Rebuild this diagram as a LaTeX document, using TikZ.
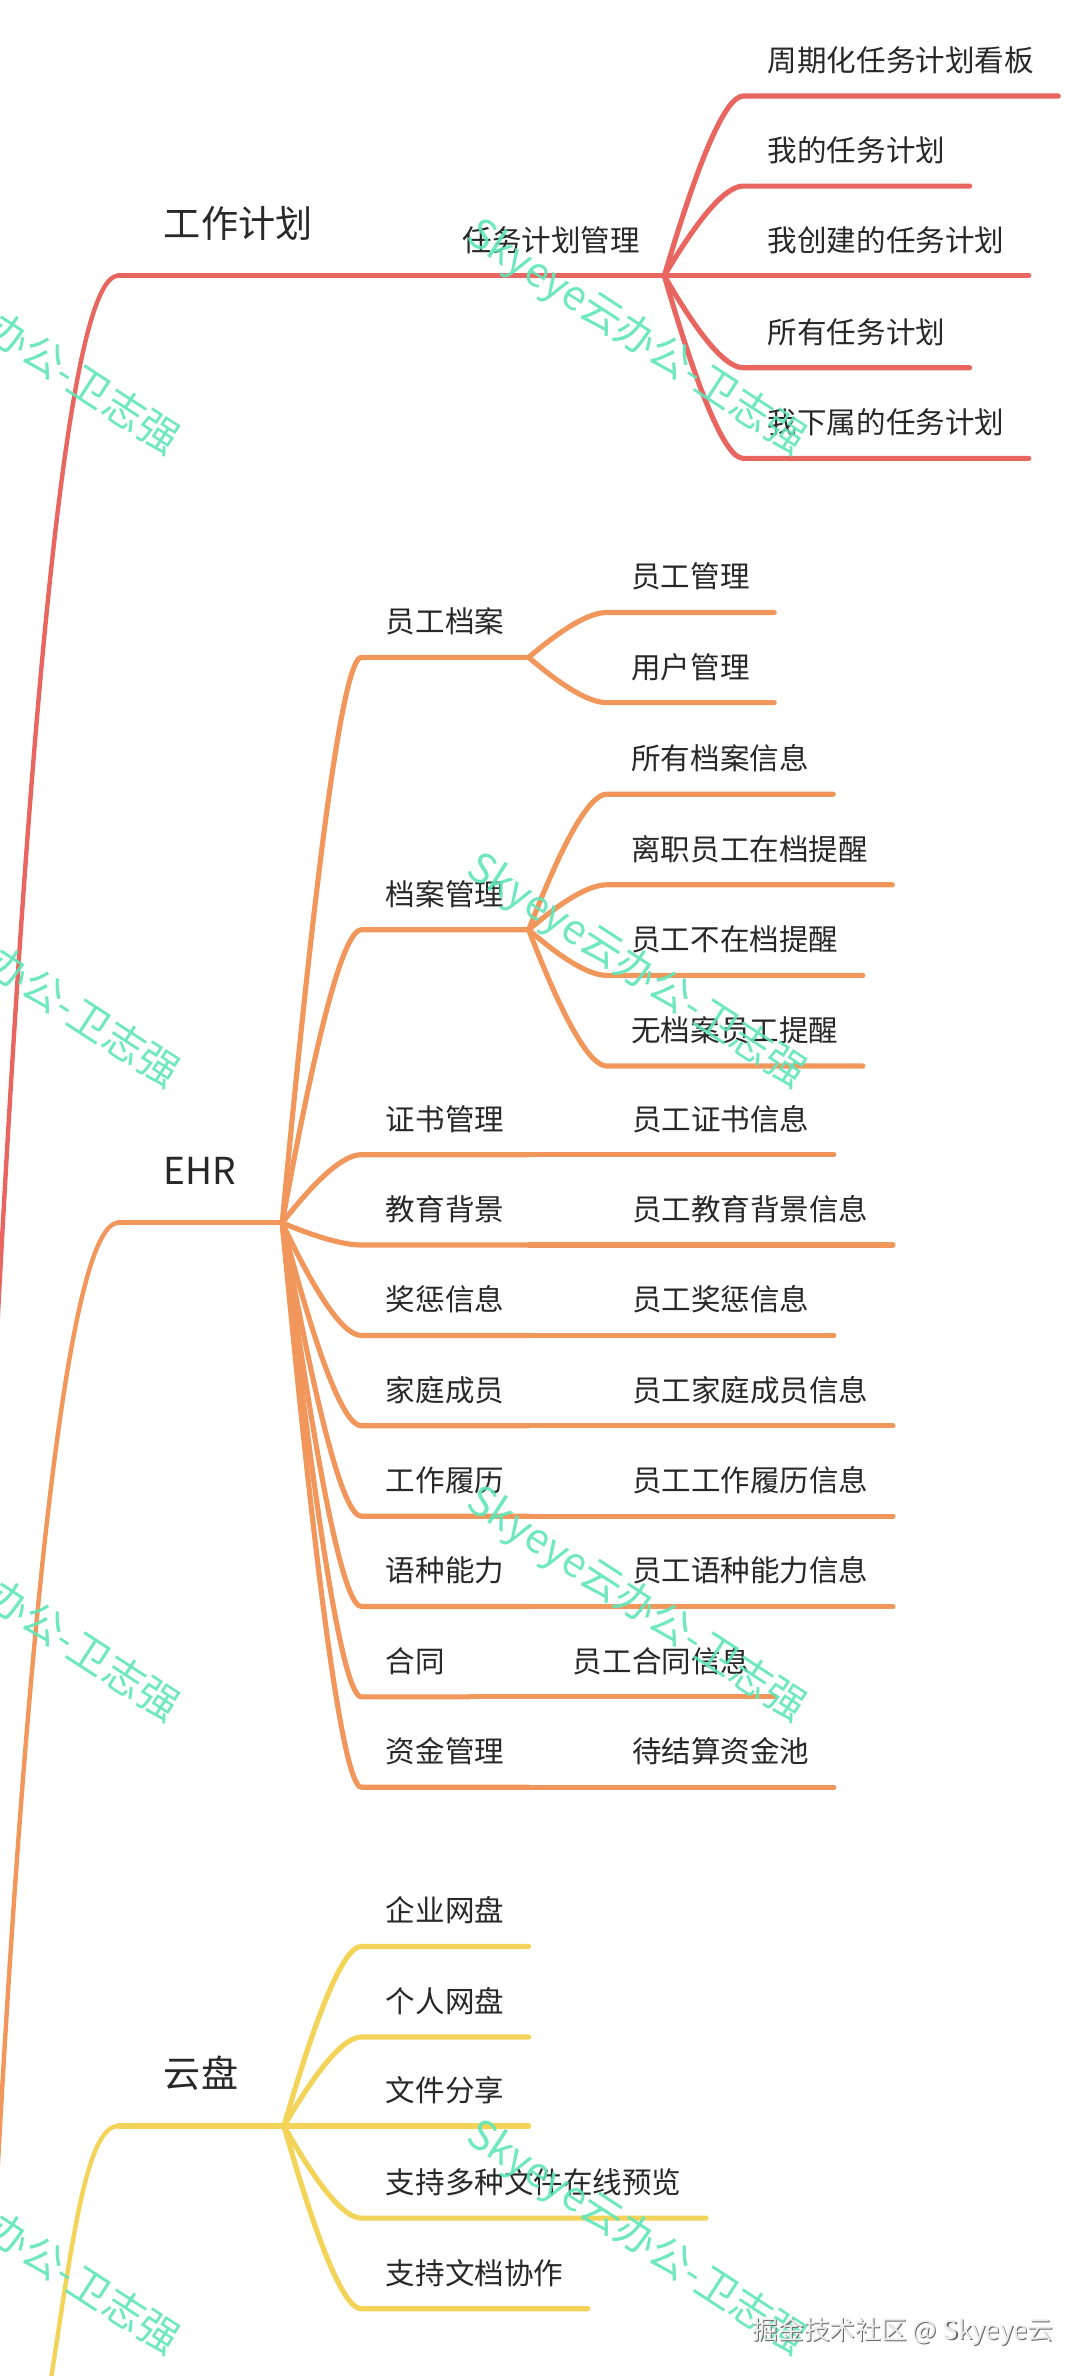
\documentclass[tikz,border=0pt]{standalone}
\usepackage{fontspec}
\setmainfont{Noto Sans CJK SC}
\usepackage{xcolor}
\usepackage{tikz}
\usetikzlibrary{calc}
\definecolor{plan}{RGB}{233,102,96}
\definecolor{ehr}{RGB}{241,151,92}
\definecolor{disk}{RGB}{243,211,88}
\definecolor{ink}{RGB}{40,40,40}
\definecolor{mint}{RGB}{96,230,186}
\tikzset{
  bough/.style={to path={let \p1=(\tikztostart), \p2=(\tikztotarget) in
    .. controls ({\x1+0.45*(\x2-\x1)},{\y1+0.67*(\y2-\y1)})
    and ({\x2-0.22*(\x2-\x1)},\y2) .. (\tikztotarget)}},
  topic/.style={anchor=south west, inner xsep=30pt, inner ysep=25pt,
    text depth=0pt, text=ink, font=\fontsize{24.5pt}{29pt}\selectfont},
  subtopic/.style={anchor=south west, inner xsep=16pt, inner ysep=16pt,
    text depth=0pt, text=ink, font=\fontsize{19.5pt}{23pt}\selectfont},
  trunk/.style={line width=2.9pt, line cap=round},
  twig/.style={line width=3.4pt, line cap=round},
  wmark/.style={text=mint, opacity=0.9, rotate=-33,
    font=\fontsize{27pt}{32pt}\selectfont},
  credit/.style={anchor=base west, inner sep=0pt,
    font=\fontsize{17pt}{20pt}\selectfont}
}
\begin{document}
\begin{tikzpicture}[x=1pt, y=-1pt]
  \useasboundingbox (0,0) rectangle (713,1568);
  \fill[white] (0,0) rectangle (713,1568);
  \clip (0,0) rectangle (713,1568);

  \coordinate (rootplan) at (-8,1000);
  \coordinate (rootehr) at (-8,1560);
  \coordinate (rootdisk) at (22,1640);

  \node[topic] (gzjh) at (78,182) {工作计划};
  \node[subtopic] (rwgl) at (289,182) {任务计划管理};
  \node[subtopic] (zqkb) at (490.5,63.4) {周期化任务计划看板};
  \node[subtopic] (wdrw) at (490.5,122.8) {我的任务计划};
  \node[subtopic] (wcjd) at (490.5,182) {我创建的任务计划};
  \node[subtopic] (syrw) at (490.5,242.7) {所有任务计划};
  \node[subtopic] (wxsd) at (490.5,302.5) {我下属的任务计划};

  \node[topic] (ehrtop) at (78,807) {EHR};
  \node[subtopic] (ygda) at (238.5,433.8) {员工档案};
  \node[subtopic] (yggl) at (400.5,404.2) {员工管理};
  \node[subtopic] (yhgl) at (400.5,463.7) {用户管理};
  \node[subtopic] (dagl) at (238.5,613.6) {档案管理};
  \node[subtopic] (syda) at (400.5,524.1) {所有档案信息};
  \node[subtopic] (lzyg) at (400.5,583.9) {离职员工在档提醒};
  \node[subtopic] (ygbz) at (400.5,643.7) {员工不在档提醒};
  \node[subtopic] (wdag) at (400.5,703.5) {无档案员工提醒};
  \node[subtopic] (zsgl) at (238.5,762) {证书管理};
  \node[subtopic] (zsxx) at ([xshift=52pt]zsgl.south east) {员工证书信息};
  \node[subtopic] (jybj) at (238.5,821.6) {教育背景};
  \node[subtopic] (jyxx) at ([xshift=52pt]jybj.south east) {员工教育背景信息};
  \node[subtopic] (jcxx) at (238.5,881.3) {奖惩信息};
  \node[subtopic] (jcyg) at ([xshift=52pt]jcxx.south east) {员工奖惩信息};
  \node[subtopic] (jtcy) at (238.5,940.9) {家庭成员};
  \node[subtopic] (jtxx) at ([xshift=52pt]jtcy.south east) {员工家庭成员信息};
  \node[subtopic] (gzll) at (238.5,1000.6) {工作履历};
  \node[subtopic] (llxx) at ([xshift=52pt]gzll.south east) {员工工作履历信息};
  \node[subtopic] (yznl) at (238.5,1060.2) {语种能力};
  \node[subtopic] (ylxx) at ([xshift=52pt]yznl.south east) {员工语种能力信息};
  \node[subtopic] (ht) at (238.5,1119.8) {合同};
  \node[subtopic] (htxx) at ([xshift=52pt]ht.south east) {员工合同信息};
  \node[subtopic] (zjgl) at (238.5,1179.4) {资金管理};
  \node[subtopic] (zjc) at ([xshift=52pt]zjgl.south east) {待结算资金池};

  \node[topic] (yp) at (78,1403) {云盘};
  \node[subtopic] (qywp) at (238.5,1284.5) {企业网盘};
  \node[subtopic] (grwp) at (238.5,1344.3) {个人网盘};
  \node[subtopic] (wjfx) at (238.5,1403) {文件分享};
  \node[subtopic] (zcyl) at (238.5,1463.8) {支持多种文件在线预览};
  \node[subtopic] (wdxz) at (238.5,1523.6) {支持文档协作};

  \draw[trunk, plan] (rootplan) .. controls (15,520) and (42,182) .. (gzjh.south west);
  \draw[twig, plan] (gzjh.south west) -- (gzjh.south east)
    to[bough] (rwgl.south west) -- (rwgl.south east);
  \foreach \k in {zqkb,wdrw,wcjd,syrw,wxsd}
    \draw[twig, plan] (rwgl.south east) to[bough] (\k.south west) -- (\k.south east);

  \draw[trunk, ehr] (rootehr) .. controls (12,1130) and (42,807) .. (ehrtop.south west);
  \draw[twig, ehr] (ehrtop.south west) -- (ehrtop.south east);
  \foreach \k in {ygda,dagl,zsgl,jybj,jcxx,jtcy,gzll,yznl,ht,zjgl}
    \draw[twig, ehr] (ehrtop.south east) to[bough] (\k.south west) -- (\k.south east);
  \foreach \k in {yggl,yhgl}
    \draw[twig, ehr] (ygda.south east) to[bough] (\k.south west) -- (\k.south east);
  \foreach \k in {syda,lzyg,ygbz,wdag}
    \draw[twig, ehr] (dagl.south east) to[bough] (\k.south west) -- (\k.south east);
  \foreach \a/\b in {zsgl/zsxx,jybj/jyxx,jcxx/jcyg,jtcy/jtxx,gzll/llxx,yznl/ylxx,ht/htxx,zjgl/zjc}
    \draw[twig, ehr] (\a.south east) -- (\b.south west) -- (\b.south east);

  \draw[trunk, disk] (rootdisk) .. controls (44,1520) and (52,1403) .. (yp.south west);
  \draw[twig, disk] (yp.south west) -- (yp.south east);
  \foreach \k in {qywp,grwp,wjfx,zcyl,wdxz}
    \draw[twig, disk] (yp.south east) to[bough] (\k.south west) -- (\k.south east);

  \foreach \r in {0,...,3} {
    \node[wmark] (wmleft\r) at (6,{223+418*\r}) {Skyeye云办公-卫志强};
    \node[wmark] (wmmid\r) at (420,{223+418*\r}) {Skyeye云办公-卫志强};
  }

  \node[credit, text=black!60] (creditshade) at (497.1,1544.4) {掘金技术社区 @ Skyeye云};
  \node[credit, text=black!7] (creditfront) at (496.4,1543.7) {掘金技术社区 @ Skyeye云};
\end{tikzpicture}
\end{document}
